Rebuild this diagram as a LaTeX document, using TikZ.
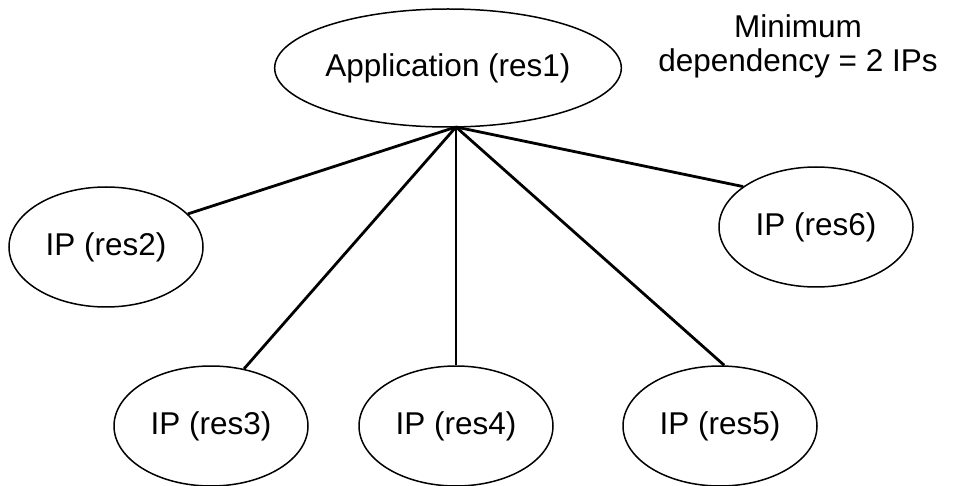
\documentclass[tikz,border=0pt]{standalone}
\usepackage{fontspec}
\setmainfont{Liberation Sans}
\usetikzlibrary{shapes.geometric}
\begin{document}
\begin{tikzpicture}[x=1pt,y=-1pt,
  resnode/.style={draw=black, line width=1.5pt, ellipse, inner sep=0pt,
    minimum width=194pt, minimum height=120pt, font=\fontsize{31.5}{34}\selectfont},
  appnode/.style={resnode, minimum width=299pt, minimum height=118pt},
  link/.style={draw=black, line width=2.8pt},
  note/.style={align=center, inner sep=0pt, font=\fontsize{31.5}{34}\selectfont}]
\useasboundingbox[fill=white] (0,0) rectangle (953,486);
\node[appnode] (app) at (448,68) {Application (res1)};
\node[resnode] (res2) at (106,247) {IP (res2)};
\node[resnode] (res3) at (211,426) {IP (res3)};
\node[resnode] (res4) at (456,426) {IP (res4)};
\node[resnode] (res5) at (720,426) {IP (res5)};
\node[resnode] (res6) at (816,227) {IP (res6)};
\node[note] (min) at (798,46) {Minimum\\dependency = 2 IPs};
\coordinate (J) at (456,127);
\draw[link] (J) -- (res2.22);
\draw[link] (J) -- (res3.60);
\draw[link] (J) -- (res4.north);
\draw[link] (J) -- (res5.86);
\draw[link] (J) -- (res6.151);
\end{tikzpicture}
\end{document}
